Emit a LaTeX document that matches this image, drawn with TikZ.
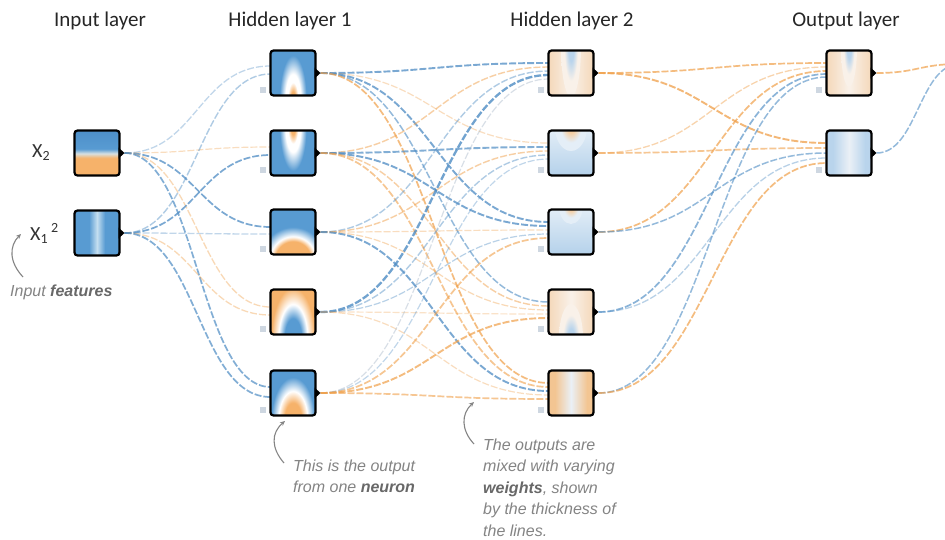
\documentclass[tikz,border=0pt]{standalone}
\usepackage{fontspec}
\setmainfont{Liberation Sans}
\newfontfamily\headfont{Carlito}
\usetikzlibrary{arrows.meta}

% neuron picture colours
\definecolor{nblue}{RGB}{88,155,210}
\definecolor{nblueD}{RGB}{76,142,200}
\definecolor{norange}{RGB}{246,178,106}
\definecolor{bandc}{RGB}{214,224,226}
\definecolor{stripec}{RGB}{196,222,240}
\definecolor{lblue}{RGB}{185,212,236}
\definecolor{topB}{RGB}{228,238,247}
\definecolor{botB}{RGB}{178,208,234}
\definecolor{sideO}{RGB}{244,213,180}
\definecolor{midW}{RGB}{249,241,233}
\definecolor{sideO2}{RGB}{243,197,146}
\definecolor{coreO}{RGB}{245,206,162}
\definecolor{paleW}{RGB}{234,240,246}
% connector colours
\definecolor{wblue}{RGB}{78,140,196}
\definecolor{worange}{RGB}{240,160,74}
\definecolor{wgray}{RGB}{170,186,202}
% annotation colours
\definecolor{notec}{RGB}{132,132,132}
\definecolor{noteb}{RGB}{104,104,104}
\definecolor{biasc}{RGB}{206,215,225}

% shadings used inside the neuron squares (the shaded path spans 25bp..75bp,
% i.e. radius 25bp for the radial ones)
\pgfdeclareverticalshading{splitBO}{100bp}{color(0bp)=(norange); color(45bp)=(norange); color(49.5bp)=(bandc); color(54bp)=(nblue); color(75bp)=(nblueD); color(100bp)=(nblueD)}
\pgfdeclareradialshading{coneOWB}{\pgfpointorigin}{color(0bp)=(norange); color(3.5bp)=(norange); color(8bp)=(white); color(12bp)=(white); color(21bp)=(nblue); color(50bp)=(nblue)}
\pgfdeclareradialshading{archOWB}{\pgfpointorigin}{color(0bp)=(norange); color(11bp)=(norange); color(14bp)=(white); color(20bp)=(nblue); color(50bp)=(nblue)}
\pgfdeclareradialshading{archOWBb}{\pgfpointorigin}{color(0bp)=(norange); color(7bp)=(norange); color(12bp)=(white); color(18bp)=(nblue); color(50bp)=(nblue)}
\pgfdeclareradialshading{archBWO}{\pgfpointorigin}{color(0bp)=(nblue); color(7bp)=(nblue); color(12bp)=(white); color(18bp)=(norange); color(50bp)=(norange)}
\pgfdeclareradialshading{coneLB}{\pgfpointorigin}{color(0bp)=(lblue); color(7bp)=(lblue); color(17bp)=(midW); color(50bp)=(midW)}
\pgfdeclareradialshading{blobLO}{\pgfpointorigin}{color(0bp)=(coreO); color(6bp)=(coreO); color(16bp)=(topB); color(50bp)=(topB)}

% what each neuron shows
\newcommand\paintXtwo{\shade[shading=splitBO] (-25,-25) rectangle (25,25);}
\newcommand\paintXsq{\fill[nblue] (-25,-25) rectangle (25,25);
  \shade[left color=nblue, right color=nblue, middle color=stripec] (-8,-25) rectangle (8,25);}
\newcommand\paintHa{\fill[nblue] (-25,-25) rectangle (25,25);
  \shade[shading=coneOWB] (0,26) ellipse [x radius=16pt, y radius=52pt];}
\newcommand\paintHb{\fill[nblue] (-25,-25) rectangle (25,25);
  \shade[shading=coneOWB] (0,-26) ellipse [x radius=16pt, y radius=52pt];}
\newcommand\paintHc{\fill[nblue] (-25,-25) rectangle (25,25);
  \shade[shading=archOWB] (0,27) circle [radius=40pt];}
\newcommand\paintHd{\fill[norange] (-25,-25) rectangle (25,25);
  \shade[shading=archBWO] (0,26) ellipse [x radius=30pt, y radius=70pt];}
\newcommand\paintHe{\fill[nblue] (-25,-25) rectangle (25,25);
  \shade[shading=archOWBb] (0,26) ellipse [x radius=30pt, y radius=58pt];}
\newcommand\paintMa{\shade[left color=sideO, right color=sideO, middle color=midW] (-25,-25) rectangle (25,25);
  \shade[shading=coneLB] (0,-26) ellipse [x radius=10pt, y radius=50pt];}
\newcommand\paintMb{\shade[top color=topB, bottom color=botB] (-25,-25) rectangle (25,25);
  \shade[shading=blobLO] (0,-26) ellipse [x radius=16pt, y radius=24pt];}
\newcommand\paintMc{\shade[top color=topB, bottom color=botB] (-25,-25) rectangle (25,25);
  \shade[shading=blobLO] (0,-26) ellipse [x radius=12pt, y radius=18pt];}
\newcommand\paintMd{\shade[left color=sideO, right color=sideO, middle color=midW] (-25,-25) rectangle (25,25);
  \shade[shading=coneLB] (0,26) ellipse [x radius=12pt, y radius=34pt];}
\newcommand\paintMe{\fill[sideO2] (-25,-25) rectangle (25,25);
  \shade[left color=sideO2, right color=sideO2, middle color=paleW] (-16,-25) rectangle (16,25);}
\newcommand\paintOa{\shade[left color=sideO, right color=sideO, middle color=midW] (-25,-25) rectangle (25,25);
  \shade[shading=coneLB] (0,-26) ellipse [x radius=8pt, y radius=40pt];}
\newcommand\paintOb{\fill[lblue] (-25,-25) rectangle (25,25);
  \shade[left color=lblue, right color=lblue, middle color=paleW] (-16,-25) rectangle (16,25);}

\pgfdeclarelayer{bg}
\pgfdeclarelayer{wires}
\pgfsetlayers{bg,wires,main}

\begin{document}
\begin{tikzpicture}[x=1pt, y=-1pt,
  neuron/.style={draw=black, line width=2.2pt, rounded corners=3pt,
    minimum width=45pt, minimum height=45pt, inner sep=0pt, outer sep=0pt},
  paint/.style={path picture={\begin{scope}[shift={(path picture bounding box.center)}]#1\end{scope}}},
  biasbox/.style={fill=biasc, minimum size=6pt, inner sep=0pt},
  wire/.style={dash pattern=on 7pt off 2pt, line cap=butt},
  title/.style={font=\headfont\fontsize{21}{25}\selectfont, text=black!85, inner sep=0pt},
  featlabel/.style={font=\headfont\fontsize{20}{24}\selectfont, text=black!80, inner sep=0pt, anchor=base west},
  note/.style={font=\itshape\fontsize{16}{21.5}\selectfont, text=notec, inner sep=0pt, align=left},
  pointer/.style={draw=notec, line width=1.1pt, -{Stealth[length=5pt, width=4.5pt]}}]

\useasboundingbox (0,0) rectangle (945,539);
\begin{pgfonlayer}{bg}
  \fill[white] (0,0) rectangle (945,539);
\end{pgfonlayer}

% layer titles
\node[title] (ttl-in)  at (100,21) {Input layer};
\node[title] (ttl-h1)  at (290,21) {Hidden layer 1};
\node[title] (ttl-h2)  at (572,21) {Hidden layer 2};
\node[title] (ttl-out) at (846,21) {Output layer};

% input features
\node[neuron, paint=\paintXtwo] (i1) at (97,153) {};
\node[neuron, paint=\paintXsq]  (i2) at (97,233) {};
\node[featlabel] (lab-i1) at (32,157) {X\textsubscript{2}};
\node[featlabel] (lab-i2) at (30,240) {X\textsubscript{1}\hspace{3pt}\textsuperscript{2}};

% first hidden layer
\node[neuron, paint=\paintHa] (h1a) at (293,73) {};
\node[neuron, paint=\paintHb] (h1b) at (293,153) {};
\node[neuron, paint=\paintHc] (h1c) at (293,232) {};
\node[neuron, paint=\paintHd] (h1d) at (293,312) {};
\node[neuron, paint=\paintHe] (h1e) at (293,393) {};

% second hidden layer
\node[neuron, paint=\paintMa] (h2a) at (571,73) {};
\node[neuron, paint=\paintMb] (h2b) at (571,153) {};
\node[neuron, paint=\paintMc] (h2c) at (571,232) {};
\node[neuron, paint=\paintMd] (h2d) at (571,312) {};
\node[neuron, paint=\paintMe] (h2e) at (571,393) {};

% output layer
\node[neuron, paint=\paintOa] (o1) at (849,73) {};
\node[neuron, paint=\paintOb] (o2) at (849,153) {};
\coordinate (onward) at (960,64);

% output tabs on the right of every neuron
\foreach \n in {i1,i2,h1a,h1b,h1c,h1d,h1e,h2a,h2b,h2c,h2d,h2e,o1,o2}
  \fill[black] ([shift={(-1,-5.5)}]\n.east) -- ([shift={(5,0)}]\n.east) -- ([shift={(-1,5.5)}]\n.east) -- cycle;

% bias squares
\foreach \n in {h1a,h1b,h1c,h1d,h1e,h2a,h2b,h2c,h2d,h2e,o1,o2}
  \node[biasbox] (\n-bias) at ([shift={(-8,-6)}]\n.south west) {};

% weighted connections
\begin{pgfonlayer}{wires}
\begin{scope}
\clip (0,0) rectangle (945,539);
\foreach \s/\t/\o/\c/\w/\a in {
  i1/h1a/-7/wblue/1.3/0.35, i1/h1b/-6/worange/1.2/0.35, i1/h1c/-5/wblue/1.7/0.75,
  i1/h1d/-5/worange/1.3/0.4, i1/h1e/-6/wblue/1.7/0.7,
  i2/h1a/1/wblue/1.4/0.45, i2/h1b/2/wblue/1.7/0.75, i2/h1c/2/wblue/1.3/0.35,
  i2/h1d/3/worange/1.3/0.4, i2/h1e/4/wblue/1.7/0.7}
  \draw[wire, draw=\c, line width=\w pt, draw opacity=\a]
    ([xshift=5pt]\s.east) .. controls +(72,0) and +(-72,0) .. ([shift={(0,\o)}]\t.west);
\foreach \s/\t/\o/\c/\w/\a in {
  h1a/h2a/-10/wblue/1.9/0.75, h1a/h2b/-10/worange/1.2/0.35, h1a/h2c/-10/wblue/1.9/0.75,
  h1a/h2d/-10/wblue/1.5/0.6, h1a/h2e/-10/worange/1.7/0.7,
  h1b/h2a/-6/worange/1.4/0.5, h1b/h2b/-6/wblue/1.9/0.7, h1b/h2c/-6/wblue/1.9/0.75,
  h1b/h2d/-6/worange/1.4/0.5, h1b/h2e/-6/worange/1.7/0.6,
  h1c/h2a/-2/wblue/1.4/0.45, h1c/h2b/-2/worange/1.4/0.5, h1c/h2c/-2/worange/1.2/0.35,
  h1c/h2d/-2/worange/1.2/0.4, h1c/h2e/-2/wblue/1.9/0.75,
  h1d/h2a/2/wblue/2.3/0.8, h1d/h2b/2/wblue/1.4/0.45, h1d/h2c/2/wblue/1.2/0.4,
  h1d/h2d/2/worange/1.2/0.3, h1d/h2e/2/worange/1.2/0.35,
  h1e/h2a/6/wgray/1.2/0.45, h1e/h2b/6/wblue/1.2/0.35, h1e/h2c/6/worange/1.7/0.6,
  h1e/h2d/6/worange/1.9/0.7, h1e/h2e/6/worange/1.7/0.6}
  \draw[wire, draw=\c, line width=\w pt, draw opacity=\a]
    ([xshift=5pt]\s.east) .. controls +(112,0) and +(-112,0) .. ([shift={(0,\o)}]\t.west);
\foreach \s/\t/\o/\c/\w/\a in {
  h2a/o1/-10/worange/1.7/0.7, h2a/o2/-10/worange/1.9/0.75,
  h2b/o1/-6/worange/1.3/0.45, h2b/o2/-5/worange/1.7/0.6,
  h2c/o1/-2/worange/1.7/0.7, h2c/o2/0/wblue/1.5/0.6,
  h2d/o1/1/wblue/1.7/0.65, h2d/o2/5/wblue/1.3/0.4,
  h2e/o1/4/wblue/1.5/0.6, h2e/o2/10/worange/1.7/0.7}
  \draw[wire, draw=\c, line width=\w pt, draw opacity=\a]
    ([xshift=5pt]\s.east) .. controls +(112,0) and +(-112,0) .. ([shift={(0,\o)}]\t.west);
\draw[wire, draw=worange, line width=1.7pt, draw opacity=0.7]
  ([xshift=5pt]o1.east) .. controls +(41,0) and +(-41,0) .. (onward);
\draw[wire, draw=wblue, line width=1.5pt, draw opacity=0.6]
  ([xshift=5pt]o2.east) .. controls +(41,0) and +(-41,0) .. (onward);
\end{scope}
\end{pgfonlayer}

% annotations
\node[note, anchor=base west] (note-in) at (10,296) {Input \textbf{\color{noteb}features}};
\node[note, anchor=north west] (note-neuron) at (293,459.5) {This is the output\\from one \textbf{\color{noteb}neuron}};
\node[note, anchor=north west] (note-weights) at (483,438.5) {The outputs are\\mixed with varying\\\textbf{\color{noteb}weights}, shown\\by the thickness of\\the lines.};

\coordinate (p1s) at (23,277);  \coordinate (p1e) at (21,234);
\coordinate (p2s) at (284,463); \coordinate (p2e) at (285,421);
\coordinate (p3s) at (474,444); \coordinate (p3e) at (474,402);
\draw[pointer] (p1s) .. controls (9,262) and (9,246) .. (p1e);
\draw[pointer] (p2s) .. controls (271,448) and (271,433) .. (p2e);
\draw[pointer] (p3s) .. controls (461,430) and (461,414) .. (p3e);

\end{tikzpicture}
\end{document}
